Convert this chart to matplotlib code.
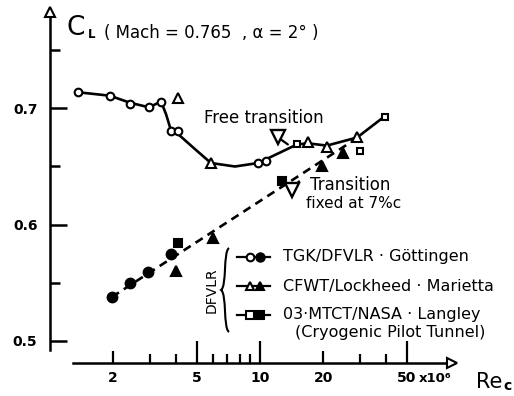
import numpy as np
import matplotlib.pyplot as plt
from matplotlib.path import Path
from matplotlib.patches import PathPatch
from matplotlib.ticker import NullFormatter

plt.rcParams['font.family'] = ['DejaVu Sans']

# free transition (open symbols)
free_circ_re = [1.36, 1.93, 2.40, 2.96, 3.38, 3.77, 4.07, 9.8, 10.7]
free_circ_cl = [0.714, 0.711, 0.704, 0.701, 0.706, 0.681, 0.681, 0.653, 0.655]
free_tri_re = [4.07, 5.84, 16.9, 20.8, 29.0]
free_tri_cl = [0.709, 0.653, 0.671, 0.667, 0.675]
free_sq_re = [15.0, 29.9, 39.4]
free_sq_cl = [0.669, 0.663, 0.693]

# transition fixed at 7% c (filled symbols)
fixed_circ_re = [1.97, 2.40, 2.93, 3.77]
fixed_circ_cl = [0.5375, 0.550, 0.559, 0.575]
fixed_tri_re = [3.98, 5.97, 19.7, 24.8]
fixed_tri_cl = [0.560, 0.588, 0.650, 0.662]
fixed_sq_re = [4.07, 12.7]
fixed_sq_cl = [0.584, 0.6375]

# faired curves
free_line_re = [1.36, 1.93, 2.40, 2.96, 3.38, 3.57, 3.77, 4.07, 4.90, 5.84, 7.60, 9.8, 15.0, 16.9, 20.8, 29.0, 39.4]
free_line_cl = [0.714, 0.711, 0.705, 0.701, 0.706, 0.695, 0.681, 0.678, 0.665, 0.653, 0.650, 0.653, 0.669, 0.670, 0.668, 0.675, 0.6935]
fixed_line_re = [1.97, 29.0]
fixed_line_cl = [0.5375, 0.6745]

# transition markers
trans_re = [12.2, 14.2]
trans_cl = [0.675, 0.630]

x_major = [2, 5, 10, 20, 50]
x_major_labels = ['2', '5', '10', '20', '50']
x_minor = [3, 4, 6, 7, 8, 9, 30, 40]
y_major = [0.5, 0.6, 0.7]
y_major_labels = ['0.5', '0.6', '0.7']
y_minor = [0.55, 0.65, 0.75]

legend_labels = ['TGK/DFVLR · Göttingen', 'CFWT/Lockheed · Marietta', '03·MTCT/NASA · Langley']
legend_markers = ['o', '^', 's']

W, H = 514, 396


def px(x, y):
    return (x / W, 1 - y / H)


fig = plt.figure(figsize=(W / 100, H / 100), dpi=100)
ax = fig.add_axes([0, 0, 1, 1])
ax.set_xscale('log')
ax.set_xlim(0.578, 162)
ax.set_ylim(0.4522, 0.7935)

# axes
Y_AXIS_RE = 1.0
X_AXIS_CL = 0.4806
for s in ['top', 'right']:
    ax.spines[s].set_visible(False)
ax.spines['left'].set_position(('data', Y_AXIS_RE))
ax.spines['left'].set_bounds(0.4918, 0.781)
ax.spines['bottom'].set_position(('data', X_AXIS_CL))
ax.spines['bottom'].set_bounds(1.29, 80)
for s in ['left', 'bottom']:
    ax.spines[s].set_linewidth(1.8)
ax.plot(Y_AXIS_RE, 0.783, marker='^', ms=7, mfc='white', mec='k', mew=1.5, clip_on=False, zorder=5)
ax.plot(82, X_AXIS_CL, marker='>', ms=7, mfc='white', mec='k', mew=1.5, clip_on=False, zorder=5)

ax.set_xticks(x_major, x_major_labels)
ax.set_xticks(x_minor, minor=True)
ax.xaxis.set_minor_formatter(NullFormatter())
ax.tick_params(axis='x', which='major', direction='in', length=8.5, width=1.6, pad=6,
               labelsize=10)
ax.tick_params(axis='x', which='minor', direction='in', length=6.5, width=1.6)
for t, v in zip(ax.xaxis.get_major_ticks(), x_major):
    if v in (5, 10, 50):
        t.tick1line.set_markersize(15.5)
for lab in ax.get_xticklabels():
    lab.set_fontweight('bold')

ax.set_yticks(y_major, y_major_labels)
ax.set_yticks(y_minor, minor=True)
ax.tick_params(axis='y', which='major', direction='in', length=12, width=1.8, pad=9,
               labelsize=10)
ax.tick_params(axis='y', which='minor', direction='in', length=7.5, width=1.8)
for lab in ax.get_yticklabels():
    lab.set_fontweight('bold')

# curves
ax.plot(free_line_re, free_line_cl, color='k', lw=1.9, solid_capstyle='round', zorder=2)
ax.plot(fixed_line_re, fixed_line_cl, color='k', lw=1.9, dashes=(3.2, 2.2), zorder=2)

mk = dict(ls='none', mec='k', mew=1.5, zorder=3)
ax.plot(free_circ_re, free_circ_cl, 'o', ms=5.5, mfc='white', **mk)
ax.plot(free_tri_re, free_tri_cl, '^', ms=6.5, mfc='white', **mk)
ax.plot(free_sq_re, free_sq_cl, 's', ms=5, mfc='white', **mk)
ax.plot(fixed_circ_re, fixed_circ_cl, 'o', ms=7, mfc='k', **mk)
ax.plot(fixed_tri_re, fixed_tri_cl, '^', ms=7, mfc='k', **mk)
ax.plot(fixed_sq_re, fixed_sq_cl, 's', ms=6, mfc='k', **mk)

ax.plot(trans_re, trans_cl, 'v', ms=10, mfc='white', mec='k', mew=1.7, ls='none', zorder=4)
ax.annotate('', xy=(trans_re[0], trans_cl[0]), xytext=(7, -5), textcoords='offset points',
            arrowprops=dict(arrowstyle='-', lw=1.6, shrinkA=0, shrinkB=3))
ax.annotate('', xy=(trans_re[1], trans_cl[1]), xytext=(5, 6), textcoords='offset points',
            arrowprops=dict(arrowstyle='-', lw=1.6, shrinkA=0, shrinkB=4))

# texts
ax.text(*px(67, 28), 'C', transform=ax.transAxes, fontsize=19, va='center', ha='left')
ax.text(*px(88, 34), 'L', transform=ax.transAxes, fontsize=8.5, fontweight='bold',
        va='center', ha='left')
ax.text(*px(104, 33), '( Mach = 0.765  , α = 2° )', transform=ax.transAxes, fontsize=12,
        va='center', ha='left')
ax.text(*px(204, 118), 'Free transition', transform=ax.transAxes, fontsize=12,
        va='center', ha='left')
ax.text(*px(310, 185), 'Transition', transform=ax.transAxes, fontsize=12,
        va='center', ha='left')
ax.text(*px(306, 204), 'fixed at 7%c', transform=ax.transAxes, fontsize=11,
        va='center', ha='left')
ax.text(*px(419, 379), 'x10⁶', transform=ax.transAxes, fontsize=9.5, fontweight='bold',
        va='center', ha='left')
ax.text(*px(476, 382), 'Re', transform=ax.transAxes, fontsize=15, va='center', ha='left')
ax.text(*px(503, 386), 'c', transform=ax.transAxes, fontsize=10, fontweight='bold',
        va='center', ha='left')

# legend
rows = [257, 286, 315]
for y, m, lab in zip(rows, legend_markers, legend_labels):
    ax.plot(*zip(px(237, y), px(270, y)), transform=ax.transAxes, color='k', lw=1.6, zorder=3)
    ax.plot(*px(250, y), transform=ax.transAxes, marker=m, ms=5.5, mfc='white', mec='k',
            mew=1.5, zorder=4)
    ax.plot(*px(260, y), transform=ax.transAxes, marker=m, ms=6, mfc='k', mec='k',
            mew=1.5, zorder=4)
    ax.text(*px(283, y), lab, transform=ax.transAxes, fontsize=11.5, va='center', ha='left')
ax.text(*px(295, 332), '(Cryogenic Pilot Tunnel)', transform=ax.transAxes, fontsize=11.5,
        va='center', ha='left')
ax.text(*px(212, 290), 'DFVLR', transform=ax.transAxes, fontsize=10, rotation=90,
        va='center', ha='center')

brace = [px(229, 248), px(223, 252), px(227, 286), px(221, 290),
         px(227, 294), px(223, 328), px(229, 332)]
codes = [Path.MOVETO, Path.CURVE4, Path.CURVE4, Path.CURVE4, Path.CURVE4, Path.CURVE4, Path.CURVE4]
ax.add_patch(PathPatch(Path(brace, codes), transform=ax.transAxes, fill=False, lw=1.5))

fig.savefig('out.png', dpi=100)
